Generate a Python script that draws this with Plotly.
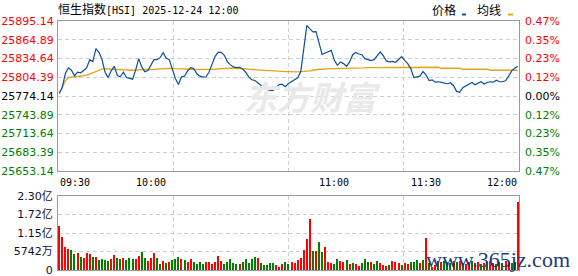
import plotly.graph_objects as go

# ---------------- data ----------------
time_labels = ["09:30", "10:00", "11:00", "11:30", "12:00"]
time_label_minutes = [0, 30, 90, 120, 150]
pre_close = 25774.14

price = [
    25778.4, 25788.0, 25810.4, 25819.5, 25815.8, 25806.7, 25812.5, 25811.5, 25815.2, 25820.0,
    25832.8, 25829.6, 25850.4, 25844.5, 25832.8, 25812.5, 25804.0, 25814.7, 25822.1, 25807.2,
    25805.1, 25812.5, 25804.0, 25802.4, 25801.3, 25815.8, 25834.4, 25821.1, 25813.1, 25815.2,
    25823.2, 25832.8, 25832.8, 25836.0, 25844.0, 25834.9, 25832.8, 25818.4, 25802.4, 25792.8,
    25805.1, 25806.1, 25814.7, 25820.0, 25818.4, 25809.9, 25806.1, 25804.5, 25805.1, 25812.5,
    25826.4, 25838.1, 25844.5, 25844.5, 25839.7, 25829.6, 25824.3, 25821.1, 25820.0, 25820.5,
    25817.9, 25812.5, 25805.1, 25800.3, 25799.2, 25795.0, 25791.8, 25787.5, 25784.8, 25783.2,
    25783.2, 25787.5, 25792.8, 25792.8, 25789.1, 25794.4, 25797.1, 25799.7, 25803.5, 25813.1,
    25855.7, 25888.0, 25882.4, 25877.6, 25878.1, 25858.4, 25841.3, 25843.5, 25845.6, 25847.7,
    25831.7, 25823.7, 25829.1, 25826.4, 25822.1, 25829.1, 25840.8, 25844.5, 25841.9, 25840.8,
    25834.4, 25832.3, 25831.2, 25832.8, 25838.7, 25845.1, 25839.2, 25830.7, 25829.1, 25830.1,
    25828.5, 25832.8, 25837.6, 25831.7, 25826.4, 25818.4, 25804.0, 25805.1, 25806.1, 25813.6,
    25807.8, 25799.2, 25800.3, 25796.5, 25797.1, 25796.0, 25795.0, 25793.9, 25795.5, 25790.7,
    25781.6, 25780.0, 25787.5, 25790.7, 25793.4, 25796.0, 25792.3, 25795.0, 25797.1, 25793.4,
    25796.0, 25797.1, 25796.5, 25799.7, 25797.1, 25797.1, 25798.7, 25806.1, 25814.7, 25819.0,
    25822.1,
]

avg_price = [
    25778.4, 25790.1, 25798.7, 25804.0, 25805.1, 25805.1, 25805.6, 25806.1, 25807.2, 25807.8,
    25809.3, 25811.0, 25813.1, 25815.7, 25817.9, 25818.4, 25817.9, 25817.3, 25817.3, 25816.8,
    25816.8, 25816.8, 25816.3, 25815.7, 25815.2, 25815.7, 25816.3, 25816.3, 25816.3, 25816.8,
    25816.8, 25817.3, 25817.3, 25817.9, 25818.4, 25818.9, 25818.9, 25818.9, 25818.4, 25818.4,
    25817.9, 25817.9, 25817.3, 25817.3, 25816.8, 25816.8, 25816.3, 25816.3, 25816.3, 25816.8,
    25816.8, 25817.3, 25817.9, 25818.4, 25818.4, 25818.4, 25818.9, 25818.9, 25818.9, 25818.4,
    25818.4, 25817.9, 25817.3, 25816.8, 25816.8, 25816.3, 25815.7, 25815.7, 25815.2, 25815.2,
    25814.7, 25814.7, 25814.1, 25814.1, 25813.6, 25813.6, 25813.1, 25813.1, 25813.1, 25813.6,
    25813.6, 25814.1, 25814.7, 25815.7, 25816.8, 25817.3, 25817.3, 25817.9, 25817.9, 25818.4,
    25818.4, 25818.4, 25818.9, 25818.9, 25818.9, 25819.5, 25819.5, 25819.5, 25819.5, 25819.5,
    25819.5, 25820.0, 25820.0, 25820.0, 25820.0, 25820.0, 25820.0, 25820.0, 25820.0, 25820.0,
    25820.0, 25820.0, 25820.0, 25820.0, 25820.0, 25820.5, 25820.5, 25820.5, 25820.5, 25820.5,
    25820.5, 25820.5, 25820.5, 25820.5, 25820.5, 25818.9, 25818.9, 25818.9, 25818.9, 25818.9,
    25818.9, 25818.9, 25817.3, 25817.3, 25817.3, 25817.3, 25817.3, 25817.3, 25817.3, 25817.3,
    25817.3, 25815.7, 25815.7, 25815.7, 25815.7, 25815.7, 25815.7, 25815.7, 25815.7, 25815.7,
    25815.7,
]

# volume per minute, in millions
volume = [
    137.3, 103.0, 71.8, 65.5, 62.4, 49.9, 53.0, 40.6, 37.4, 53.0,
    49.9, 40.6, 40.6, 31.2, 34.3, 31.2, 28.1, 34.3, 46.8, 37.4,
    34.3, 37.4, 31.2, 37.4, 34.3, 34.3, 43.7, 56.2, 37.4, 28.1,
    37.4, 53.0, 37.4, 18.7, 28.1, 21.8, 25.0, 31.2, 34.3, 40.6,
    34.3, 31.2, 25.0, 34.3, 25.0, 18.7, 25.0, 18.7, 25.0, 25.0,
    18.7, 25.0, 43.7, 28.1, 18.7, 25.0, 34.3, 21.8, 18.7, 18.7,
    25.0, 34.3, 21.8, 34.3, 40.6, 37.4, 21.8, 15.6, 15.6, 21.8,
    21.8, 15.6, 9.4, 18.7, 25.0, 18.7,
    25.0, 21.8, 31.2, 37.4, 62.4, 96.7, 159.1, 59.3, 59.3, 87.4,
    56.2, 71.8, 25.0, 21.8, 18.7, 34.3, 28.1, 25.0, 31.2, 18.7,
    21.8, 18.7, 12.5, 21.8, 34.3, 25.0, 25.0, 18.7, 28.1, 21.8,
    15.6, 12.5, 15.6, 28.1, 25.0, 21.8, 15.6, 21.8, 18.7, 25.0,
    25.0, 31.2, 21.8, 31.2, 99.8, 21.8, 9.4, 15.6, 28.1, 25.0,
    28.1, 25.0, 21.8, 28.1,
    25.0, 28.1, 21.8, 18.7, 25.0, 28.1, 21.8, 25.0, 18.7, 21.8,
    25.0, 28.1, 21.8, 18.7, 25.0, 21.8, 28.1, 25.0, 21.8, 25.0,
    212.0,
]

# r = up minute (red), g = down minute (green)
volume_dir = (
    list("rrrrggrgrrrgrggggrrggrgggrrggrrrggrgrgggrgrrggggrrrrrrgggggrgggggrgggggrrrgg")
    + list("rrrrrrrgrggrrrggrrgrgrrgggrggrrrgrrrgrrgggrgrgrrgrgggr")
    + list("grgrrgrrgrgrrgrgrrgrr")
)

price_ticks = [25653.14, 25683.39, 25713.64, 25743.89, 25774.14,
               25804.39, 25834.64, 25864.89, 25895.14]
price_tick_labels = ["25653.14", "25683.39", "25713.64", "25743.89", "25774.14",
                     "25804.39", "25834.64", "25864.89", "25895.14"]
pct_tick_labels = ["0.47%", "0.35%", "0.23%", "0.12%", "0.00%",
                   "0.12%", "0.23%", "0.35%", "0.47%"]
vol_ticks = [0, 57.42, 114.84, 172.26, 229.68]
vol_tick_labels = ["0", "5742万", "1.15亿", "1.72亿", "2.30亿"]
grid_minutes = [37.5, 75, 112.5]

# ---------------- styling ----------------
RED, GREEN, BLACK = "#ff0000", "#008000", "#000000"
BLUE_LINE, AVG_LINE = "#0b4f9f", "#e2a21a"
GRID, FRAME = "#d0d0d0", "#9a9a9a"
FONT = "DejaVu Sans, Noto Sans CJK SC, sans-serif"
MONO = "DejaVu Sans Mono, Noto Sans CJK SC, monospace"


def tick_color(v):
    if abs(v - pre_close) < 1e-6:
        return BLACK
    return RED if v > pre_close else GREEN


price_ticktext = [f'<span style="color:{tick_color(v)}">{t}</span>'
                  for v, t in zip(price_ticks, price_tick_labels)]
pct_ticktext = [f'<span style="color:{tick_color(v)}">{t}</span>'
                for v, t in zip(price_ticks, pct_tick_labels)]

minutes = list(range(len(price)))
vol_minutes = list(range(len(volume)))
bar_colors = [RED if d == "r" else GREEN for d in volume_dir]

fig = go.Figure()
fig.add_trace(go.Scatter(x=minutes, y=avg_price, mode="lines",
                         line=dict(color=AVG_LINE, width=1.3), xaxis="x", yaxis="y",
                         showlegend=False, hoverinfo="skip"))
fig.add_trace(go.Scatter(x=minutes, y=price, mode="lines",
                         line=dict(color=BLUE_LINE, width=1.2), xaxis="x", yaxis="y",
                         showlegend=False))
fig.add_trace(go.Scatter(x=[minutes[0]], y=[price[0]], mode="markers", opacity=0,
                         xaxis="x", yaxis="y2", showlegend=False, hoverinfo="skip"))
fig.add_trace(go.Bar(x=vol_minutes, y=volume, marker=dict(color=bar_colors, line=dict(width=0)),
                     width=0.36, xaxis="x2", yaxis="y3", showlegend=False))

xrange = [-0.4, 150.4]
common_x = dict(range=xrange, tickvals=grid_minutes, showticklabels=False, ticks="",
                showgrid=True, gridcolor=GRID, griddash="4px,3px", gridwidth=1,
                showline=True, linecolor=FRAME, linewidth=1, mirror=True, zeroline=False,
                fixedrange=True, automargin=False)

main_dom = [(270 - 171) / 249, 1.0]
vol_dom = [0.0, (270 - 196) / 249]

fig.update_layout(
    template="none",
    width=578, height=276,
    margin=dict(l=58, r=59, t=21, b=6, pad=0, autoexpand=False),
    paper_bgcolor="white", plot_bgcolor="white",
    font=dict(family=FONT, size=11, color=BLACK),
    bargap=0,
    xaxis=dict(domain=[0, 1], anchor="y", **common_x),
    xaxis2=dict(domain=[0, 1], anchor="y3", matches="x", **common_x),
    yaxis=dict(domain=main_dom, anchor="x", range=[price_ticks[0], price_ticks[-1]],
               tickvals=price_ticks, ticktext=price_ticktext, ticks="",
               tickfont=dict(family=FONT, size=11),
               showgrid=True, gridcolor=GRID, griddash="4px,3px",
               showline=True, linecolor=FRAME, linewidth=1, mirror=True, zeroline=False,
               ticklabelstandoff=1, automargin=False, ticklabeloverflow="allow"),
    yaxis2=dict(overlaying="y", side="right", anchor="x", range=[price_ticks[0], price_ticks[-1]],
                tickvals=price_ticks, ticktext=pct_ticktext, ticks="",
                tickfont=dict(family=FONT, size=11), showgrid=False, zeroline=False,
                showline=False, ticklabelstandoff=5, automargin=False,
                ticklabeloverflow="allow"),
    yaxis3=dict(domain=vol_dom, anchor="x2", range=[vol_ticks[0], vol_ticks[-1]],
                tickvals=vol_ticks, ticktext=vol_tick_labels, ticks="",
                tickfont=dict(family=FONT, size=11, color="#101030"),
                showgrid=True, gridcolor=GRID, griddash="4px,3px",
                showline=True, linecolor=FRAME, linewidth=1, mirror=True, zeroline=False,
                ticklabelstandoff=2, automargin=False, ticklabeloverflow="allow"),
)


def px_x(px):
    return (px - 58) / 461


def px_y(py):
    return (270 - py) / 249


annotations = []
# watermarks
annotations.append(dict(text="<b><i>东方财富</i></b>", xref="paper", yref="paper",
                        x=px_x(312), y=px_y(96), xanchor="center", yanchor="middle",
                        showarrow=False, font=dict(family="Noto Sans CJK SC", size=33,
                                                   color="#e9e9e9")))
# title
annotations.append(dict(text='<span style="font-family:Noto Sans CJK SC;font-size:12px">恒生指数</span>[HSI] 2025-12-24 12:00',
                        xref="paper", yref="paper", x=px_x(57), y=px_y(8.5),
                        xanchor="left", yanchor="middle", showarrow=False, borderpad=0,
                        font=dict(family=MONO, size=10, color=BLACK)))
# legend
annotations.append(dict(text="价格", xref="paper", yref="paper", x=px_x(431), y=px_y(9),
                        xanchor="left", yanchor="middle", showarrow=False, borderpad=0,
                        font=dict(family="Noto Sans CJK SC", size=12, color=BLACK)))
annotations.append(dict(text="均线", xref="paper", yref="paper", x=px_x(476), y=px_y(9),
                        xanchor="left", yanchor="middle", showarrow=False, borderpad=0,
                        font=dict(family="Noto Sans CJK SC", size=12, color=BLACK)))
# time labels
anchors = ["left"] + ["center"] * (len(time_labels) - 2) + ["right"]
for m, t, a in zip(time_label_minutes, time_labels, anchors):
    annotations.append(dict(text=t, xref="x", yref="paper", x=m, y=px_y(182),
                            xanchor=a, yanchor="middle", showarrow=False, borderpad=0,
                            font=dict(family=MONO, size=10, color=BLACK)))
# site watermark
annotations.append(dict(text="www.365jz.com", xref="paper", yref="paper",
                        x=px_x(571), y=px_y(259), xanchor="right", yanchor="middle",
                        showarrow=False, borderpad=0,
                        font=dict(family="Liberation Serif", size=22, color="#1d3c7a")))
fig.update_layout(annotations=annotations)

# legend swatches
fig.add_shape(type="rect", xref="paper", yref="paper", x0=px_x(462), x1=px_x(466),
              y0=px_y(15.5), y1=px_y(13.5), fillcolor=BLUE_LINE, line=dict(width=0))
fig.add_shape(type="rect", xref="paper", yref="paper", x0=px_x(508), x1=px_x(513),
              y0=px_y(15.5), y1=px_y(13.5), fillcolor=AVG_LINE, line=dict(width=0))

fig.write_html("out.html", config=dict(displayModeBar=False))
